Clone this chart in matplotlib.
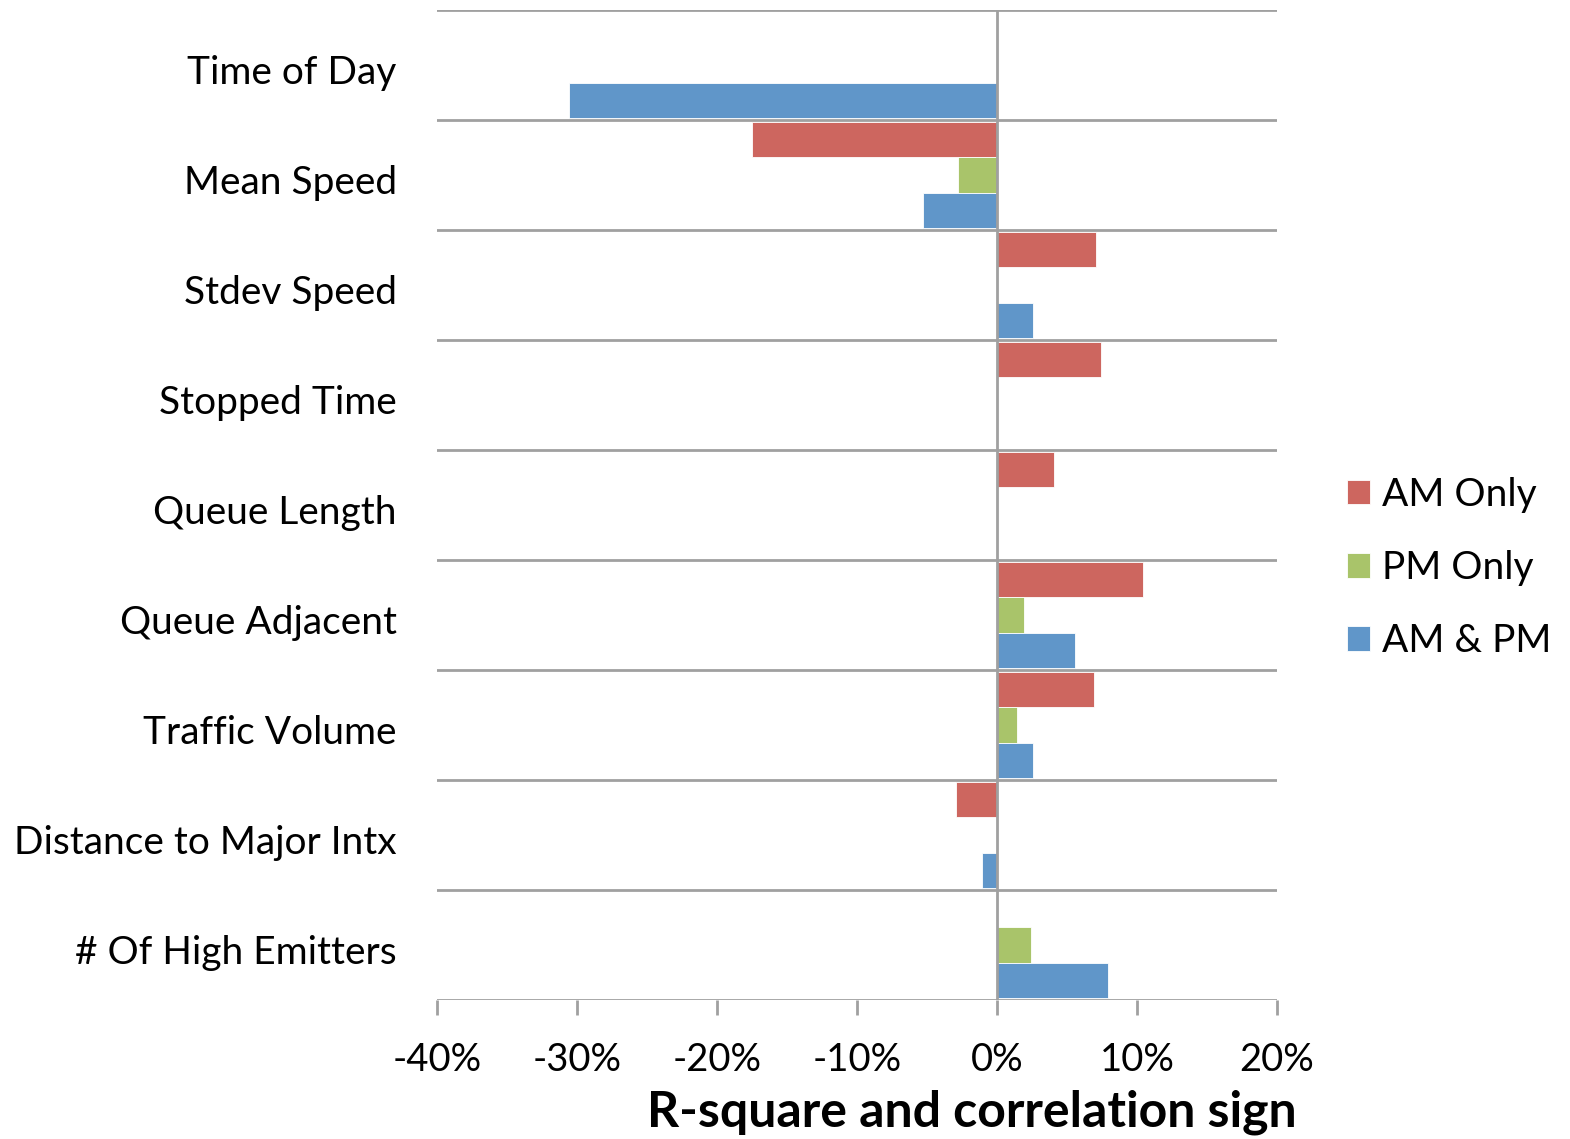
import numpy as np
import matplotlib.pyplot as plt

plt.rcParams['font.family'] = ['Lato', 'DejaVu Sans']

categories = ['Time of Day', 'Mean Speed', 'Stdev Speed', 'Stopped Time', 'Queue Length',
              'Queue Adjacent', 'Traffic Volume', 'Distance to Major Intx', '# Of High Emitters']
am_only = [0.0, -0.175, 0.071, 0.074, 0.041, 0.104, 0.069, -0.029, 0.0]
pm_only = [0.0, -0.028, 0.0, 0.0, 0.0, 0.019, 0.014, 0.0, 0.024]
am_pm = [-0.306, -0.053, 0.026, 0.0, 0.0, 0.056, 0.026, -0.011, 0.079]
series_names = ['AM Only', 'PM Only', 'AM & PM']
colors = ['#CD665F', '#A9C46A', '#6096C9']
xticks = [-0.4, -0.3, -0.2, -0.1, 0.0, 0.1, 0.2]

fig = plt.figure(figsize=(15.7, 11.39), dpi=100)
ax = fig.add_axes([437/1570, 1 - 1000/1139, 840/1570, 990/1139])

n = len(categories)
h = 0.32
centers = np.arange(n) + 0.5
for k, (vals, c, name) in enumerate(zip([am_only, pm_only, am_pm], colors, series_names)):
    ax.barh(centers + (k - 1) * h, vals, height=h, color=c, edgecolor='white',
            linewidth=0.6, label=name, zorder=2)

# band separator lines
for y in range(n + 1):
    ax.axhline(y, color='#A0A0A0', lw=2, zorder=1)
ax.axvline(0, color='#A0A0A0', lw=2, zorder=3)

ax.set_xlim(-0.4, 0.2)
ax.set_ylim(n, 0)
for s in ax.spines.values():
    s.set_visible(False)

ax.set_xticks(xticks)
ax.set_xticklabels(['{:.0f}%'.format(t * 100) for t in xticks], fontsize=27.5)
ax.tick_params(axis='x', direction='out', length=11, width=2, color='#A0A0A0', pad=19)
ax.set_yticks(centers + 0.04)
ax.set_yticklabels(categories, fontsize=28)
ax.tick_params(axis='y', length=0, pad=29)

fig.text(972/1570, 1 - 1112/1139, 'R-square and correlation sign', fontsize=36,
         fontweight='bold', ha='center', va='center')

ax.legend(loc='center left', bbox_to_anchor=((1347 - 437) / 840, 1 - (568 - 10) / 990),
          frameon=False, borderpad=0, borderaxespad=0,
          fontsize=28, handlelength=0.6, handleheight=0.6, labelspacing=0.96, handletextpad=0.3)

fig.savefig('out.png', dpi=100)
